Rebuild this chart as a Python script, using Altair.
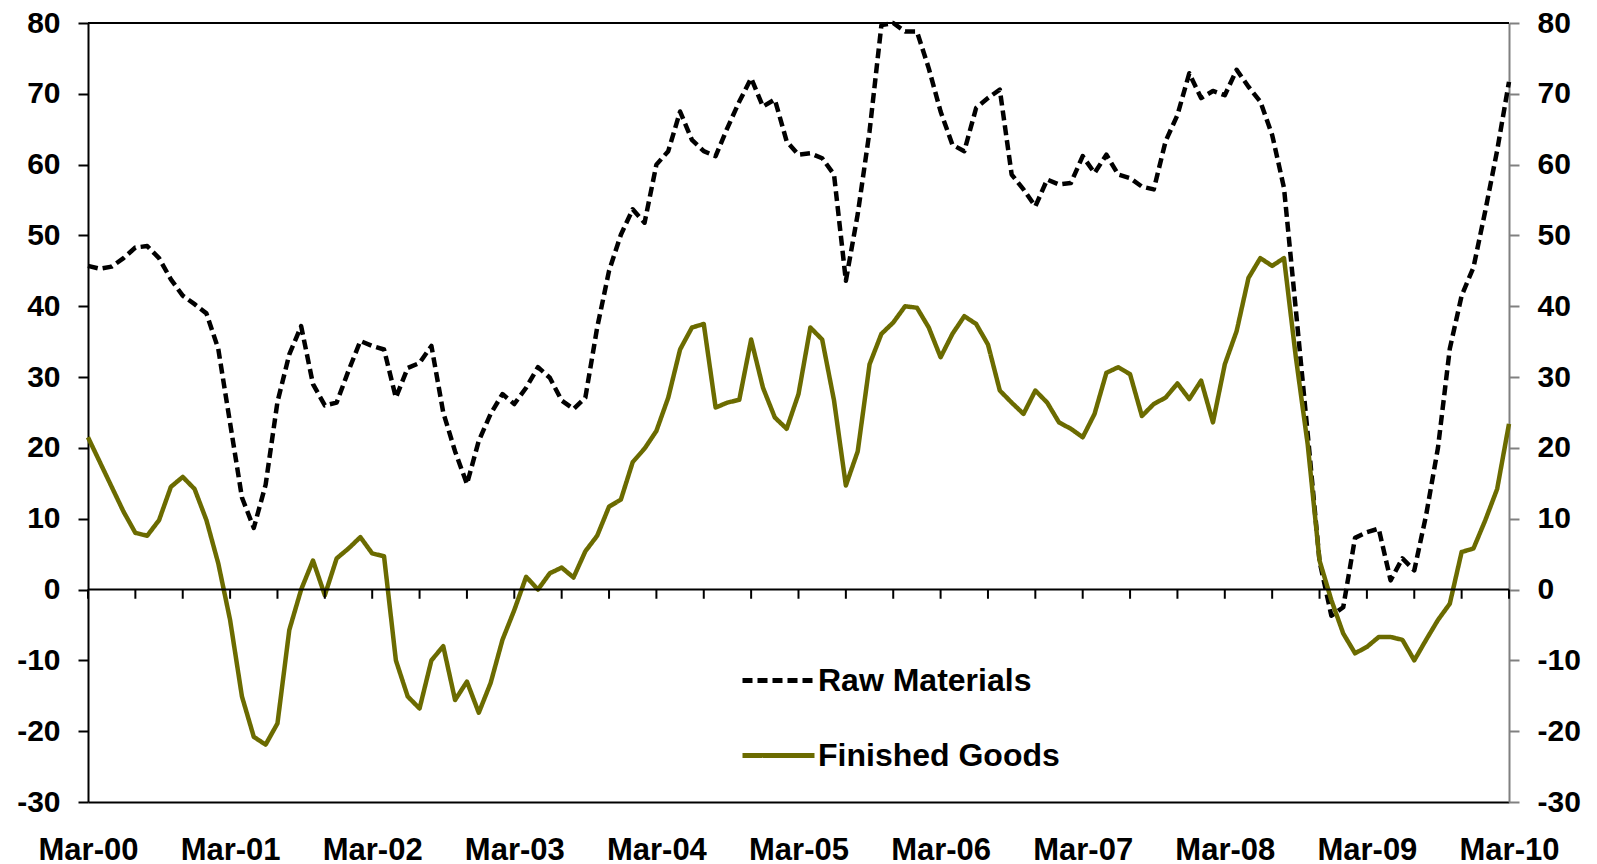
import json
import altair as alt
import pandas as pd

# ---- data (monthly, Mar-00 .. Mar-10) ----
tick_labels = ["Mar-00", "Mar-01", "Mar-02", "Mar-03", "Mar-04", "Mar-05",
               "Mar-06", "Mar-07", "Mar-08", "Mar-09", "Mar-10"]

raw_materials = [
    45.7, 45.3, 45.6, 46.8, 48.3, 48.5, 46.8, 43.8, 41.5, 40.3, 39.0, 34.0,
    23.5, 13.0, 8.7, 14.8, 26.5, 33.2, 37.2, 29.0, 26.0, 26.4, 30.9, 35.1,
    34.4, 33.9, 27.1, 31.3, 32.0, 34.4, 25.0, 19.5, 14.9, 21.0, 24.8, 27.6,
    26.2, 28.5, 31.4, 29.9, 26.7, 25.5, 27.1, 37.0, 45.0, 50.1, 53.7, 51.8,
    60.0, 61.9, 67.5, 63.5, 61.9, 61.2, 65.2, 68.9, 72.2, 68.2, 69.2, 63.3,
    61.4, 61.6, 60.9, 58.6, 43.6, 53.0, 64.7, 79.7, 80.0, 78.8, 78.8, 73.6,
    67.5, 62.8, 61.9, 68.0, 69.4, 70.6, 58.6, 56.5, 54.1, 57.9, 57.2, 57.4,
    61.2, 58.8, 61.4, 58.6, 58.1, 56.9, 56.5, 63.3, 67.0, 72.9, 69.4, 70.4,
    69.8, 73.4, 71.0, 68.9, 64.2, 56.7, 39.5, 22.0, 4.0, -3.7, -2.5, 7.3,
    8.1, 8.6, 1.3, 4.4, 2.7, 10.5, 20.0, 34.0, 41.5, 45.5, 53.5, 62.0,
    71.7,
]

finished_goods = [
    21.5, 18.0, 14.5, 11.0, 8.0, 7.6, 9.8, 14.5, 15.9, 14.2, 9.8, 3.7,
    -4.3, -15.1, -20.8, -21.9, -18.9, -5.7, 0.0, 4.1, -0.8, 4.4, 5.8, 7.4,
    5.1, 4.7, -10.0, -15.1, -16.8, -10.0, -8.0, -15.6, -13.0, -17.4, -13.2, -7.1,
    -2.9, 1.8, 0.0, 2.3, 3.1, 1.7, 5.4, 7.6, 11.7, 12.7, 18.0, 19.9,
    22.4, 27.1, 33.9, 37.0, 37.5, 25.7, 26.4, 26.8, 35.3, 28.5, 24.3, 22.7,
    27.6, 37.0, 35.3, 26.7, 14.7, 19.5, 31.8, 36.1, 37.7, 40.0, 39.8, 37.0,
    32.8, 36.1, 38.6, 37.5, 34.6, 28.1, 26.4, 24.8, 28.1, 26.4, 23.6, 22.7,
    21.5, 24.8, 30.6, 31.4, 30.4, 24.5, 26.2, 27.1, 29.1, 26.9, 29.5, 23.6,
    31.8, 36.5, 44.0, 46.8, 45.7, 46.8, 32.8, 20.5, 4.1, -1.5, -6.2, -9.0,
    -8.1, -6.7, -6.7, -7.1, -10.0, -7.1, -4.3, -2.0, 5.3, 5.8, 9.8, 14.2,
    23.4,
]

series_names = ["Raw Materials", "Finished Goods"]
series_colors = ["#000000", "#6B6B00"]
y_ticks = list(range(-30, 81, 10))
y_min, y_max = -30, 80
n = len(raw_materials)

rows = []
for name, vals in zip(series_names, [raw_materials, finished_goods]):
    for i, v in enumerate(vals):
        rows.append({"idx": i, "value": v, "series": name})
df = pd.DataFrame(rows)

minor_ticks = pd.DataFrame({"idx": list(range(0, n, 4)), "z": 0, "z2": -1.3})
frame = pd.DataFrame({"top": [y_max]})

FONT = "Liberation Sans"
xscale = alt.Scale(domain=[0, n - 1], nice=False, zero=False)
yscale = alt.Scale(domain=[y_min, y_max], nice=False, zero=False)

label_expr = json.dumps(tick_labels) + "[round(datum.value / 12)]"

x_axis = alt.Axis(values=list(range(0, n, 12)), labelExpr=label_expr, title=None,
                  grid=False, ticks=False, tickSize=0, domain=True,
                  domainColor="black", domainWidth=2, labelPadding=33,
                  labelFont=FONT, labelFontSize=31, labelFontWeight="bold",
                  labelColor="black", labelFlush=False, labelOverlap=False)

def y_axis(orient, color):
    return alt.Axis(orient=orient, values=y_ticks, title=None, grid=False,
                    labelExpr="'' + datum.value",
                    domainColor=color, domainWidth=2, tickColor=color,
                    tickWidth=2, tickSize=10, labelPadding=18,
                    labelFont=FONT, labelFontSize=30, labelFontWeight="bold",
                    labelColor="black", labelFlush=False, labelOverlap=False)

legend = alt.Legend(title=None, orient="none", legendX=652, legendY=619,
                    symbolType="stroke", symbolSize=5184, symbolStrokeWidth=5,
                    labelFont=FONT, labelFontSize=32, labelFontWeight="bold",
                    labelColor="black", labelOffset=1, rowPadding=20, padding=0,
                    labelLimit=600)

lines = alt.Chart(df).mark_line(strokeWidth=4.5, strokeCap="butt",
                                strokeJoin="round").encode(
    x=alt.X("idx:Q", scale=xscale, axis=x_axis),
    y=alt.Y("value:Q", scale=yscale, axis=y_axis("left", "black")),
    color=alt.Color("series:N", scale=alt.Scale(domain=series_names, range=series_colors),
                    legend=legend),
    strokeDash=alt.StrokeDash("series:N",
                              scale=alt.Scale(domain=series_names, range=[[10, 5], [1, 0]]),
                              legend=legend),
    order=alt.Order("idx:Q"),
)

# zero line (y = 0) spanning the plot, with small ticks every 4 months below it
zero_line = alt.Chart(minor_ticks).mark_rule(color="black", strokeWidth=2).encode(
    y=alt.Y("mean(z):Q", scale=yscale, axis=None)
)

minor = alt.Chart(minor_ticks).mark_rule(color="black", strokeWidth=2).encode(
    x=alt.X("idx:Q", scale=xscale, axis=x_axis),
    y=alt.Y("z:Q", scale=yscale, axis=None),
    y2="z2:Q",
)

top_border = alt.Chart(frame).mark_rule(color="black", strokeWidth=2).encode(
    y=alt.Y("top:Q", scale=yscale, axis=y_axis("right", "#808080"))
)

chart = alt.layer(lines, zero_line, minor, top_border).resolve_scale(
    y="shared", x="shared"
).resolve_axis(y="independent").properties(
    width=1421, height=779, autosize="none",
    padding={"left": 80, "top": 15, "right": 80, "bottom": 62},
    background="white",
).configure_view(stroke=None)

chart.save("out.html", embed_options={"renderer": "svg", "actions": False})
